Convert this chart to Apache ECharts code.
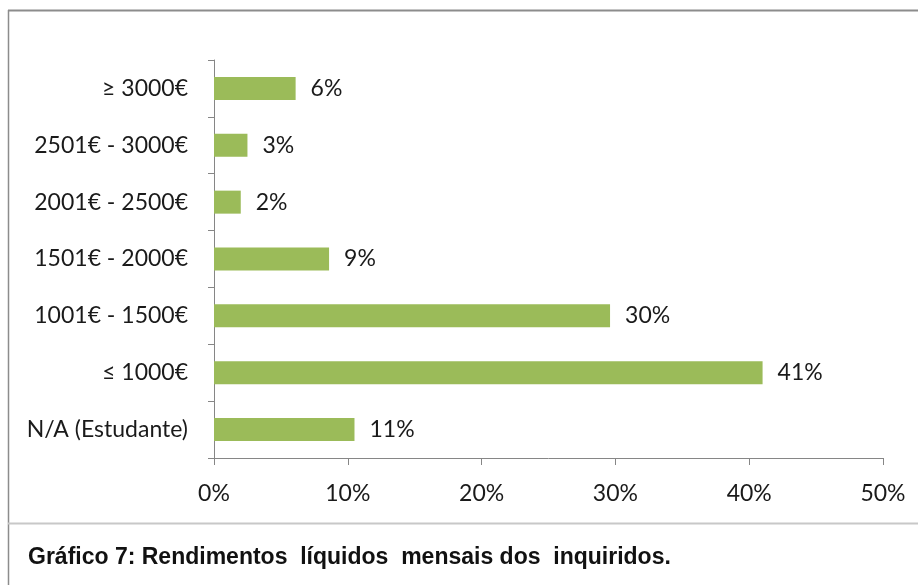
<!DOCTYPE html>
<html>
<head>
<meta charset="utf-8">
<script src="https://cdn.jsdelivr.net/npm/echarts@6/dist/echarts.min.js"></script>
<style>
  html, body { margin: 0; padding: 0; background: #fff; }
  #chart { width: 918px; height: 585px; }
</style>
</head>
<body>
<div id="chart"></div>
<script>
// categories listed top to bottom
const categories = ['≥ 3000€', '2501€ - 3000€', '2001€ - 2500€', '1501€ - 2000€', '1001€ - 1500€', '≤ 1000€', 'N/A (Estudante)']
const values = [6.1, 2.5, 2.0, 8.6, 29.6, 41.0, 10.5]
const xTicks = [0, 10, 20, 30, 40, 50]
const caption = 'Gráfico 7: Rendimentos  líquidos  mensais dos  inquiridos.'

const chart = echarts.init(document.getElementById('chart'))
const labelFont = 'Lato, "Open Sans", sans-serif'

const option = {
  animation: false,
  grid: {
    left: 214,
    right: 35,
    top: 60,
    bottom: 127
  },
  xAxis: {
    type: 'value',
    min: xTicks[0],
    max: xTicks[xTicks.length - 1],
    interval: 10,
    axisLine: { show: true, lineStyle: { color: '#868686', width: 1 } },
    axisTick: { show: true, length: 7, lineStyle: { color: '#868686' } },
    splitLine: { show: false },
    axisLabel: {
      margin: 24,
      formatter: '{value}%',
      color: '#1a1a1a',
      fontSize: 23,
      fontFamily: labelFont
    }
  },
  yAxis: {
    type: 'category',
    inverse: true,
    data: categories,
    axisLine: { show: true, lineStyle: { color: '#868686', width: 1 } },
    axisTick: { show: true, length: 6, lineStyle: { color: '#868686' } },
    axisLabel: {
      margin: 26,
      color: '#1a1a1a',
      fontSize: 23,
      fontFamily: labelFont
    }
  },
  series: [
    {
      type: 'bar',
      data: values,
      barWidth: 23,
      itemStyle: { color: '#9bbb59' },
      label: {
        show: true,
        position: 'right',
        distance: 15,
        formatter: p => Math.round(p.value) + '%',
        color: '#1a1a1a',
        fontSize: 23,
        fontFamily: labelFont
      }
    }
  ],
  graphic: [
    { type: 'line', shape: { x1: 8, y1: 10.5, x2: 918, y2: 10.5 }, style: { stroke: '#8c8c8c', lineWidth: 2 } },
    { type: 'line', shape: { x1: 8.5, y1: 10, x2: 8.5, y2: 585 }, style: { stroke: '#8c8c8c', lineWidth: 1.5 } },
    { type: 'line', shape: { x1: 8, y1: 523.5, x2: 918, y2: 523.5 }, style: { stroke: '#c8c8c8', lineWidth: 2 } },
    {
      type: 'text',
      left: 28,
      top: 546,
      style: {
        text: caption,
        fill: '#111',
        font: 'bold 23px "Liberation Sans", Arial, sans-serif'
      }
    }
  ]
}

chart.setOption(option)
window.addEventListener('resize', () => chart.resize())
</script>
</body>
</html>
